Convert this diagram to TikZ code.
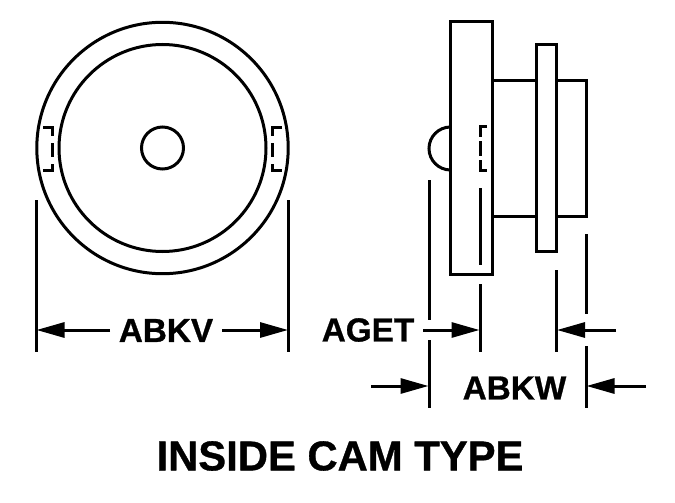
\documentclass[tikz,border=0pt]{standalone}
\usepackage{fontspec}
\setmainfont{Liberation Sans}
\newfontfamily\heavyface[FakeBold=0.8]{Liberation Sans Bold}
\usetikzlibrary{arrows.meta}
\tikzset{
  x=1pt,y=-1pt,
  part/.style={draw=black,line width=3pt,fill=white,line join=miter},
  ln/.style={draw=black,line width=3pt,line cap=butt},
  dimarrow/.style={draw=black,line width=3pt,-{Triangle[length=28pt,width=15pt]},shorten >=-1pt},
  dimtext/.style={font=\heavyface\fontsize{33.3}{34}\selectfont,inner sep=0pt,text=black,anchor=center},
  titletext/.style={font=\heavyface\fontsize{41.8}{42}\selectfont,inner sep=0pt,text=black,anchor=center}
}
\begin{document}
\begin{tikzpicture}
\useasboundingbox (0,0) rectangle (675,503);
% front view
\draw[ln] (162.5,148) circle (125.7);
\draw[ln] (162.5,148) circle (103.5);
\draw[ln] (162.5,148) circle (21);
\draw[ln] (43,127) -- (52.5,127) -- (52.5,136);
\draw[ln] (52.5,143) -- (52.5,157);
\draw[ln] (52.5,164) -- (52.5,170) -- (43,170);
\draw[ln] (282,127) -- (272.5,127) -- (272.5,136);
\draw[ln] (272.5,143) -- (272.5,157);
\draw[ln] (272.5,164) -- (272.5,170) -- (282,170);
% side view
\draw[ln] (450.5,127) arc (-90:-270:21.5);
\draw[part] (493,80.5) -- (586,80.5) -- (586,216.5) -- (493,216.5);
\draw[part] (450.5,22) rectangle (492.5,274);
\draw[part] (536.5,45) rectangle (556.5,251);
\draw[ln] (487,126.5) -- (480,126.5) -- (480,137);
\draw[ln] (480,141) -- (480,156);
\draw[ln] (480,160) -- (480,170.5) -- (487,170.5);
\draw[ln] (480,188) -- (480,265);
% extension lines
\coordinate (k1a) at (36,200); \coordinate (k1b) at (36,352);
\coordinate (k2a) at (288.5,200); \coordinate (k2b) at (288.5,352);
\draw[ln] (k1a) -- (k1b);
\draw[ln] (k2a) -- (k2b);
\coordinate (g1a) at (429,180); \coordinate (g1b) at (429,320);
\coordinate (g2a) at (429,340); \coordinate (g2b) at (429,408);
\coordinate (g3a) at (480,284); \coordinate (g3b) at (480,352);
\draw[ln] (g1a) -- (g1b);
\draw[ln] (g2a) -- (g2b);
\draw[ln] (g3a) -- (g3b);
\coordinate (w1a) at (556.5,270); \coordinate (w1b) at (556.5,352);
\coordinate (w2a) at (586,234); \coordinate (w2b) at (586,314);
\coordinate (w3a) at (586,346); \coordinate (w3b) at (586,408);
\draw[ln] (w1a) -- (w1b);
\draw[ln] (w2a) -- (w2b);
\draw[ln] (w3a) -- (w3b);
% labels
\node[dimtext] (abkv) at (166,330.5) {ABKV};
\node[dimtext] (aget) at (368,330) {AGET};
\node[dimtext] (abkw) at (514.5,388) {ABKW};
\node[titletext] (title) at (340,456) {INSIDE CAM TYPE};
% arrows
\coordinate (av1) at (110,330); \coordinate (av1t) at (37.5,330);
\coordinate (av2) at (222,330); \coordinate (av2t) at (287,330);
\draw[dimarrow] (av1) -- (av1t);
\draw[dimarrow] (av2) -- (av2t);
\coordinate (ag) at (423,330); \coordinate (agt) at (478.5,330);
\draw[dimarrow] (ag) -- (agt);
\coordinate (wa) at (616,330); \coordinate (wat) at (558,330);
\draw[dimarrow] (wa) -- (wat);
\coordinate (wb) at (371,386); \coordinate (wbt) at (427.5,386);
\draw[dimarrow] (wb) -- (wbt);
\coordinate (wc) at (646,386); \coordinate (wct) at (587.5,386);
\draw[dimarrow] (wc) -- (wct);
\end{tikzpicture}
\end{document}
